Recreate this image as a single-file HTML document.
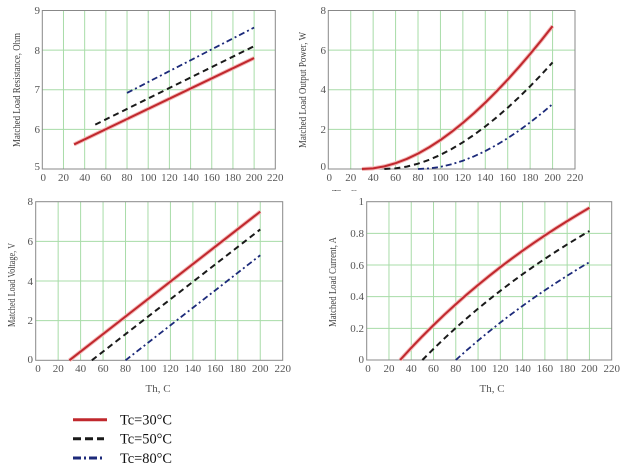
<!DOCTYPE html>
<html><head><meta charset="utf-8"><style>
html,body{margin:0;padding:0;background:#fff;}
svg{display:block;}
.t{font-family:"Liberation Serif",serif;font-size:11px;fill:#555;}
.ax{font-family:"Liberation Serif",serif;font-size:10px;fill:#444;}
.lg{font-family:"Liberation Serif",serif;font-size:15px;fill:#111;}
.g{stroke:#a8dca8;stroke-width:1;fill:none;}
.f{stroke:#888;stroke-width:1;fill:none;}
.r{stroke:#c0282d;stroke-width:2;fill:none;stroke-linejoin:round;}
.rh{stroke:#f4b8b8;stroke-width:4;fill:none;stroke-linejoin:round;}
.k{stroke:#1a1a1a;stroke-width:2;fill:none;stroke-dasharray:6 4;}
.b{stroke:#1c2a7a;stroke-width:1.8;fill:none;stroke-dasharray:6 3 2 3;}
</style></head><body>
<svg width="627" height="469" viewBox="0 0 627 469" xmlns="http://www.w3.org/2000/svg">
<rect width="627" height="469" fill="#fff"/>

<!-- ===== Chart 1: Resistance ===== -->
<g>
<path class="g" d="M63.48 10.5V169M84.66 10.5V169M105.85 10.5V169M127.03 10.5V169M148.21 10.5V169M169.39 10.5V169M190.57 10.5V169M211.75 10.5V169M232.94 10.5V169M254.12 10.5V169M42.3 129.4H275.3M42.3 89.75H275.3M42.3 50.1H275.3"/>
<rect class="f" x="42.3" y="10.5" width="233" height="158.5"/>
<line class="rh" x1="74.07" y1="144.43" x2="254.12" y2="58.05"/>
<line class="r" x1="74.07" y1="144.43" x2="254.12" y2="58.05"/>
<line class="k" x1="95.25" y1="124.62" x2="254.12" y2="46.16"/>
<line class="b" x1="127.03" y1="92.92" x2="254.12" y2="27.54"/>
<g class="t" text-anchor="end">
<text x="40" y="14">9</text><text x="40" y="54">8</text><text x="40" y="93">7</text><text x="40" y="133">6</text><text x="40" y="170">5</text>
</g>
<g class="t" text-anchor="middle">
<text x="43.3" y="181">0</text><text x="63.5" y="181">20</text><text x="84.7" y="181">40</text><text x="105.9" y="181">60</text><text x="127" y="181">80</text><text x="148.2" y="181">100</text><text x="169.4" y="181">120</text><text x="190.6" y="181">140</text><text x="211.8" y="181">160</text><text x="232.9" y="181">180</text><text x="254.1" y="181">200</text><text x="275.3" y="181">220</text>
</g>
<text class="ax" text-anchor="middle" transform="translate(20,90) rotate(-90)" textLength="114" lengthAdjust="spacingAndGlyphs">Matched Load Resistance, Ohm</text>
</g>

<!-- ===== Chart 2: Power ===== -->
<g>
<path class="g" d="M350.73 10.5V169M373.15 10.5V169M395.58 10.5V169M418.01 10.5V169M440.44 10.5V169M462.86 10.5V169M485.29 10.5V169M507.72 10.5V169M530.14 10.5V169M552.57 10.5V169M328.3 129.4H575M328.3 89.75H575M328.3 50.1H575"/>
<rect class="f" x="328.3" y="10.5" width="246.7" height="158.5"/>
<polyline class="rh" points="361.94,169 373.15,168.33 384.37,166.38 395.58,163.22 406.80,158.94 418.01,153.60 429.22,147.27 440.44,140.01 451.65,131.86 462.86,122.89 474.08,113.13 485.29,102.63 496.50,91.43 507.72,79.57 518.93,67.07 530.14,53.98 541.36,40.32 552.57,26.12"/>
<polyline class="r" points="361.94,169 373.15,168.33 384.37,166.38 395.58,163.22 406.80,158.94 418.01,153.60 429.22,147.27 440.44,140.01 451.65,131.86 462.86,122.89 474.08,113.13 485.29,102.63 496.50,91.43 507.72,79.57 518.93,67.07 530.14,53.98 541.36,40.32 552.57,26.12"/>
<polyline class="k" points="384.37,169 395.58,168.39 406.80,166.60 418.01,163.70 429.22,159.77 440.44,154.86 451.65,149.02 462.86,142.32 474.08,134.79 485.29,126.49 496.50,117.45 507.72,107.71 518.93,97.30 530.14,86.27 541.36,74.65 552.57,62.45"/>
<polyline class="b" points="418.01,169 429.22,168.45 440.44,166.85 451.65,164.26 462.86,160.72 474.08,156.30 485.29,151.04 496.50,144.98 507.72,138.16 518.93,130.62 530.14,122.41 541.36,113.54 552.57,104.06"/>
<g class="t" text-anchor="end">
<text x="326" y="14">8</text><text x="326" y="54">6</text><text x="326" y="93">4</text><text x="326" y="133">2</text><text x="326" y="170">0</text>
</g>
<g class="t" text-anchor="middle">
<text x="329.3" y="181">0</text><text x="350.7" y="181">20</text><text x="373.2" y="181">40</text><text x="395.6" y="181">60</text><text x="418" y="181">80</text><text x="440.4" y="181">100</text><text x="462.9" y="181">120</text><text x="485.3" y="181">140</text><text x="507.7" y="181">160</text><text x="530.1" y="181">180</text><text x="552.6" y="181">200</text><text x="575" y="181">220</text>
</g>
<text class="ax" text-anchor="middle" transform="translate(306,90) rotate(-90)" textLength="116" lengthAdjust="spacingAndGlyphs">Matched Load Output Power, W</text>
<svg x="328" y="186" width="30" height="5" overflow="hidden"><text class="t" x="4" y="11">Th, C</text></svg>
</g>

<!-- ===== Chart 3: Voltage ===== -->
<g>
<path class="g" d="M58.15 201.7V360.3M80.61 201.7V360.3M103.06 201.7V360.3M125.52 201.7V360.3M147.97 201.7V360.3M170.43 201.7V360.3M192.88 201.7V360.3M215.34 201.7V360.3M237.79 201.7V360.3M260.25 201.7V360.3M35.7 320.65H282.7M35.7 281H282.7M35.7 241.35H282.7"/>
<rect class="f" x="35.7" y="201.7" width="247" height="158.6"/>
<line class="rh" x1="69.38" y1="360.3" x2="260.25" y2="211.61"/>
<line class="r" x1="69.38" y1="360.3" x2="260.25" y2="211.61"/>
<line class="k" x1="91.84" y1="360.3" x2="260.25" y2="229.45"/>
<line class="b" x1="125.52" y1="360.3" x2="260.25" y2="255.23"/>
<g class="t" text-anchor="end">
<text x="33" y="205">8</text><text x="33" y="245">6</text><text x="33" y="285">4</text><text x="33" y="324">2</text><text x="33" y="363">0</text>
</g>
<g class="t" text-anchor="middle">
<text x="38" y="372">0</text><text x="58.2" y="372">20</text><text x="80.6" y="372">40</text><text x="103.1" y="372">60</text><text x="125.5" y="372">80</text><text x="148" y="372">100</text><text x="170.4" y="372">120</text><text x="192.9" y="372">140</text><text x="215.3" y="372">160</text><text x="237.8" y="372">180</text><text x="260.3" y="372">200</text><text x="282.7" y="372">220</text>
</g>
<text class="ax" text-anchor="middle" transform="translate(15,285) rotate(-90)" textLength="84" lengthAdjust="spacingAndGlyphs">Matched Load Voltage, V</text>
<text class="t" x="158" y="392" text-anchor="middle">Th, C</text>
</g>

<!-- ===== Chart 4: Current ===== -->
<g>
<path class="g" d="M388.97 201.7V360M411.25 201.7V360M433.52 201.7V360M455.79 201.7V360M478.06 201.7V360M500.34 201.7V360M522.61 201.7V360M544.88 201.7V360M567.16 201.7V360M589.43 201.7V360M366.7 328.34H611.7M366.7 296.68H611.7M366.7 265.02H611.7M366.7 233.36H611.7"/>
<rect class="f" x="366.7" y="201.7" width="245" height="158.3"/>
<polyline class="rh" points="400.11,360 411.25,347.85 422.38,336.23 433.52,325.11 444.65,314.45 455.79,304.23 466.93,294.42 478.06,284.99 489.20,275.93 500.34,267.21 511.47,258.82 522.61,250.73 533.75,242.93 544.88,235.41 556.02,228.15 567.16,221.13 578.29,214.35 589.43,207.79"/>
<polyline class="r" points="400.11,360 411.25,347.85 422.38,336.23 433.52,325.11 444.65,314.45 455.79,304.23 466.93,294.42 478.06,284.99 489.20,275.93 500.34,267.21 511.47,258.82 522.61,250.73 533.75,242.93 544.88,235.41 556.02,228.15 567.16,221.13 578.29,214.35 589.43,207.79"/>
<polyline class="k" points="422.38,360 433.52,348.86 444.65,338.18 455.79,327.93 466.93,318.09 478.06,308.63 489.20,299.54 500.34,290.78 511.47,282.35 522.61,274.22 533.75,266.38 544.88,258.81 556.02,251.51 567.16,244.45 578.29,237.62 589.43,231.01"/>
<polyline class="b" points="455.79,360 466.93,350.09 478.06,340.57 489.20,331.40 500.34,322.56 511.47,314.05 522.61,305.84 533.75,297.91 544.88,290.26 556.02,282.86 567.16,275.71 578.29,268.80 589.43,262.10"/>
<g class="t" text-anchor="end">
<text x="364" y="205">1</text><text x="364" y="237">0.8</text><text x="364" y="269">0.6</text><text x="364" y="300">0.4</text><text x="364" y="332">0.2</text><text x="364" y="363">0</text>
</g>
<g class="t" text-anchor="middle">
<text x="368" y="372">0</text><text x="389" y="372">20</text><text x="411.3" y="372">40</text><text x="433.5" y="372">60</text><text x="455.8" y="372">80</text><text x="478.1" y="372">100</text><text x="500.3" y="372">120</text><text x="522.6" y="372">140</text><text x="544.9" y="372">160</text><text x="567.2" y="372">180</text><text x="589.4" y="372">200</text><text x="611.7" y="372">220</text>
</g>
<text class="ax" text-anchor="middle" transform="translate(336,282) rotate(-90)" textLength="90" lengthAdjust="spacingAndGlyphs">Matched Load Current, A</text>
<text class="t" x="492" y="392" text-anchor="middle">Th, C</text>
</g>

<!-- ===== Legend ===== -->
<line x1="73" y1="419.7" x2="107" y2="419.7" stroke="#c0282d" stroke-width="3"/>
<line x1="73" y1="438.7" x2="104" y2="438.7" stroke="#1a1a1a" stroke-width="3" stroke-dasharray="8 4"/>
<line x1="73" y1="458" x2="103" y2="458" stroke="#1c2a7a" stroke-width="3" stroke-dasharray="8 3 2 3"/>
<text class="lg" x="120" y="424.5" textLength="52" lengthAdjust="spacingAndGlyphs">Tc=30°C</text>
<text class="lg" x="120" y="443.5" textLength="52" lengthAdjust="spacingAndGlyphs">Tc=50°C</text>
<text class="lg" x="120" y="463" textLength="52" lengthAdjust="spacingAndGlyphs">Tc=80°C</text>
</svg>
</body></html>
